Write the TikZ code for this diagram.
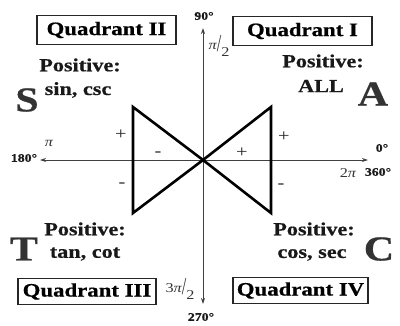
\documentclass[tikz,border=0pt]{standalone}
\usepackage{fontspec}
\setmainfont{Liberation Serif}[FakeStretch=1.2, BoldFeatures={FakeBold=0.6}]
\usetikzlibrary{arrows.meta}
\tikzset{
  qbox/.style={draw=black!85, line width=1.5pt, minimum height=29pt, inner sep=0pt, font=\bfseries\fontsize{19}{21}\selectfont},
  postext/.style={font=\bfseries\fontsize{18.5}{20}\selectfont, inner sep=0pt, text=black!90},
  bigletter/.style={font=\bfseries\fontsize{35}{36}\selectfont, inner sep=0pt, text=black!80},
  degtext/.style={font=\bfseries\fontsize{11.5}{12}\selectfont, inner sep=0pt, text=black!90},
  radtext/.style={font=\fontsize{13.5}{14}\selectfont, inner sep=0pt, text=black!80},
  sgntext/.style={font=\fontsize{17}{18}\selectfont, inner sep=0pt, text=black!85},
  axisline/.style={line width=0.9pt, black!75, {Stealth[length=6pt,width=4pt]}-{Stealth[length=6pt,width=4pt]}},
  triline/.style={line width=2.6pt, black, line join=miter}
}
\newcommand{\slfrac}[2]{\raisebox{0.45ex}{#1}\scalebox{1}[1.8]{/}\raisebox{-0.7ex}{#2}}
\begin{document}
\begin{tikzpicture}[x=1pt,y=-1pt]
\useasboundingbox (0,0) rectangle (400,325);
% axes
\coordinate (o) at (203,160);
\coordinate (axL) at (40,160);
\coordinate (axR) at (368,160);
\coordinate (axT) at (203,28);
\coordinate (axB) at (203,304);
\draw[axisline] (axL) -- (axR);
\draw[axisline] (axB) -- (axT);
% triangles
\coordinate (lt) at (133,107);
\coordinate (lb) at (133,213);
\coordinate (rt) at (271,107);
\coordinate (rb) at (271,213);
\draw[triline] (o) -- (lt) -- (lb) -- cycle;
\draw[triline] (o) -- (rt) -- (rb) -- cycle;
% quadrant boxes
\node[qbox, minimum width=139pt] (q2) at (106.5,30) {Quadrant II};
\node[qbox, minimum width=139pt] (q1) at (302.5,31) {Quadrant I};
\node[qbox, minimum width=138pt, minimum height=26pt] (q3) at (87,291.5) {Quadrant III};
\node[qbox, minimum width=135pt, minimum height=26pt] (q4) at (300.5,290.5) {Quadrant IV};
% quadrant texts
\node[postext] (p2) at (80,65) {Positive:};
\node[postext] (f2) at (78,90) {sin, csc};
\node[bigletter] (S) at (27,100) {S};
\node[postext] (p1) at (323,61) {Positive:};
\node[postext] (f1) at (321,86) {ALL};
\node[bigletter] (A) at (373,94) {A};
\node[postext] (p3) at (85,229) {Positive:};
\node[postext] (f3) at (85,254) {tan, cot};
\node[bigletter] (T) at (24,249) {T};
\node[postext] (p4) at (314,229) {Positive:};
\node[postext] (f4) at (312,255) {cos, sec};
\node[bigletter] (C) at (379,249) {C};
% angle labels
\node[degtext] (d90) at (204,16) {90°};
\node[radtext] (r90) at (219,46) {\slfrac{\itshape π}{2}};
\node[degtext] (d180) at (24,158) {180°};
\node[radtext] (r180) at (49,143) {\itshape π};
\node[degtext] (d0) at (382,148) {0°};
\node[radtext] (r360) at (348,173) {2\itshape π};
\node[degtext] (d360) at (378,172) {360°};
\node[radtext] (r270) at (180,289) {\slfrac{3\itshape π}{2}};
\node[degtext] (d270) at (201,317) {270°};
% signs
\node[sgntext] (s1) at (121,135) {+};
\node[sgntext] (s2) at (158,154) {-};
\node[sgntext] (s3) at (122,185) {-};
\node[sgntext] (s4) at (242,153) {+};
\node[sgntext] (s5) at (284,137) {+};
\node[sgntext] (s6) at (281,186) {-};
\end{tikzpicture}
\end{document}
